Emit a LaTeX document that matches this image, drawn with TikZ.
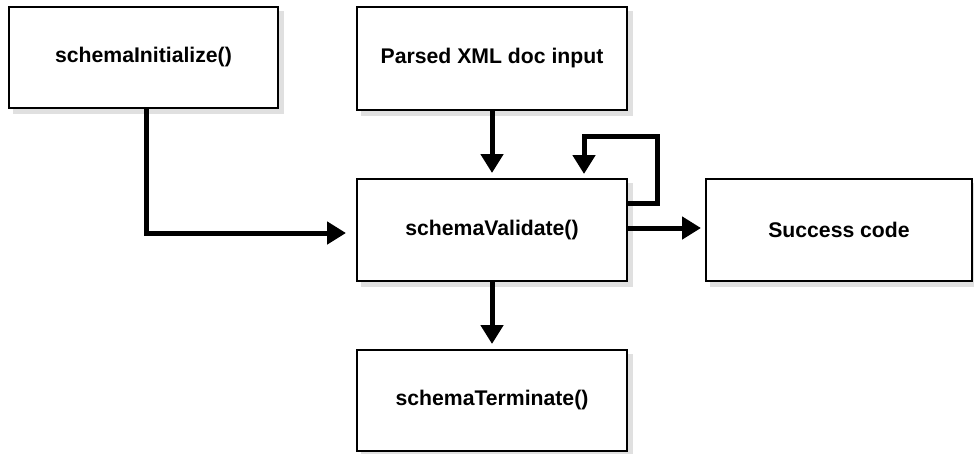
\documentclass[tikz,border=0pt]{standalone}
\usepackage{fontspec}
\setmainfont{Liberation Sans}
\usetikzlibrary{arrows.meta,calc,backgrounds}
\begin{document}
\begin{tikzpicture}[x=1pt,y=-1pt,
  box/.style={draw=black,line width=2pt,fill=white,
    font=\fontsize{21.2}{25}\selectfont\bfseries,align=center,inner sep=0pt},
  shadowbox/.style={fill=black!12},
  conn/.style={line width=5pt,line join=miter,
    -{Triangle[length=19pt,width=22pt]}}
]
\useasboundingbox (0,0) rectangle (974,453);
\node[box,minimum width=269pt,minimum height=101pt] (init) at (143.5,57.5) {schemaInitialize()};
\node[box,minimum width=270pt,minimum height=103pt] (parsed) at (492,58.5) {Parsed XML doc input};
\node[box,minimum width=270pt,minimum height=102pt] (validate) at (492,230) {schemaValidate()};
\node[box,minimum width=266pt,minimum height=102pt] (success) at (839,230) {Success code};
\node[box,minimum width=270pt,minimum height=101pt] (term) at (492,400.5) {schemaTerminate()};

\begin{scope}[on background layer]
\fill[white] (0,0) rectangle (974,453);
\foreach \n in {init,parsed,validate,success,term}{
  \fill[shadowbox] ($(\n.north west)+(5,5)$) rectangle ($(\n.south east)+(5,5)$);
}
\end{scope}

\coordinate (ia) at (146,108);
\coordinate (ib) at (146,233);
\coordinate (l1) at (627,203);
\coordinate (l2) at (657,203);
\coordinate (l3) at (657,136);
\coordinate (l4) at (584,136);
\coordinate (l5) at (584,179);

\draw[conn,shorten >=10pt] (ia) -- (ib) -- (ib -| validate.west);
\draw[conn,shorten >=5pt] (parsed.south) -- (validate.north);
\draw[conn,shorten >=5pt] (l1) -- (l2) -- (l3) -- (l4) -- (l5);
\draw[conn,shorten >=4pt] ([yshift=2pt]validate.east) -- ([yshift=2pt]success.west);
\draw[conn,shorten >=5pt] (validate.south) -- (term.north);
\end{tikzpicture}
\end{document}
